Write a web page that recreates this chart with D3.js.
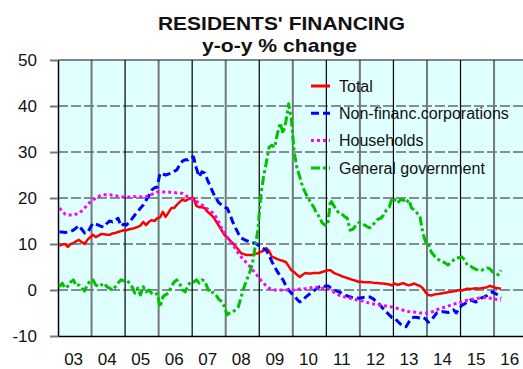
<!DOCTYPE html>
<html>
<head>
<meta charset="utf-8">
<script src="https://cdn.jsdelivr.net/npm/d3@7"></script>
<style>
  html, body { margin: 0; padding: 0; background: #ffffff; }
  svg { display: block; font-family: "Liberation Sans", Arial, sans-serif; }
</style>
</head>
<body>
<svg id="chart" width="523" height="369"></svg>
<script>
// Monthly y-o-y % change, January 2003 to March 2016
const firstYear = 2003;
const yearLabels = ["03", "04", "05", "06", "07", "08", "09", "10", "11", "12", "13", "14", "15", "16"];
const yTicks = [-10, 0, 10, 20, 30, 40, 50];

const seriesNames = ["Total", "Non-financ.corporations", "Households", "General government"];

const total = [
  9.6, 9.9, 10.0, 9.4, 10.0, 10.2, 10.6, 10.9, 10.4, 10.0, 10.9, 11.5,
  12.0, 11.5, 11.8, 12.2, 12.1, 12.0, 12.0, 12.3, 12.4, 12.6, 12.8, 13.0,
  13.0, 13.2, 13.3, 13.5, 13.7, 14.0, 14.8, 14.1, 14.8, 15.2, 15.0, 15.6,
  15.8, 17.0, 15.9, 16.8, 17.8, 17.8, 18.5, 19.1, 19.6, 19.4, 19.7, 20.0,
  20.0, 18.3, 18.0, 18.0, 17.8, 17.0, 16.5, 15.9, 15.0, 14.0, 13.0, 12.0,
  11.5, 10.8, 10.2, 9.5, 8.8, 8.0, 7.8, 7.6, 7.6, 7.6, 7.8, 8.0,
  8.3, 8.5, 9.1, 8.5, 7.2, 7.0, 6.7, 6.5, 6.3, 6.1, 5.2, 4.3,
  3.9, 3.3, 2.8, 3.3, 3.7, 3.6, 3.6, 3.7, 3.7, 3.7, 3.9, 4.1,
  4.3, 4.3, 3.8, 3.5, 3.3, 3.0, 2.8, 2.6, 2.4, 2.2, 2.0, 1.8,
  1.8, 1.7, 1.7, 1.7, 1.6, 1.5, 1.5, 1.4, 1.4, 1.3, 1.2, 1.0,
  1.4, 1.1, 1.3, 1.5, 1.2, 1.0, 1.2, 1.4, 1.1, 0.9, 0.4, -0.5,
  -1.1, -1.2, -1.0, -0.9, -0.8, -0.7, -0.6, -0.5, -0.4, -0.3, -0.2, 0.0,
  -0.1, 0.1, 0.3, 0.2, 0.3, 0.4, 0.3, 0.4, 0.5, 0.6, 0.9, 0.7,
  0.5, 0.4, 0.3
];

const corporations = [
  12.6, 12.6, 12.5, 12.6, 12.7, 13.0, 13.5, 14.0, 13.2, 12.4, 12.4, 13.5,
  14.5, 14.3, 14.1, 13.8, 13.7, 14.5, 15.0, 14.8, 15.2, 15.6, 13.9, 14.3,
  14.1, 14.8, 15.5, 16.3, 17.0, 17.8, 18.5, 19.5, 20.5, 21.7, 22.2, 22.4,
  25.4, 25.2, 25.0, 25.2, 25.4, 25.8, 26.1, 27.2, 28.0, 28.3, 28.3, 28.9,
  28.9, 26.5, 24.6, 25.7, 25.4, 23.9, 22.5, 21.1, 20.0, 19.0, 18.5, 18.0,
  17.8, 16.5, 14.8, 13.5, 12.3, 11.3, 11.0, 10.7, 10.5, 10.2, 10.2, 9.8,
  9.4, 9.0, 8.7, 7.5, 6.2, 5.0, 4.0, 3.0, 2.2, 1.0, 0.0, -0.7,
  -1.2, -2.0, -2.6, -2.3, -1.6, -1.1, -0.7, -0.2, 0.3, 0.7, 1.0, 0.8,
  0.9, 0.5, 0.1, -0.2, -0.4, -0.7, -1.0, -1.3, -1.5, -1.7, -1.7, -1.8,
  -1.7, -1.6, -1.5, -1.5, -1.8, -2.3, -2.8, -3.5, -4.2, -4.8, -5.4, -6.0,
  -6.1, -6.8, -7.4, -7.8, -8.0, -7.0, -6.1, -5.9, -6.0, -6.1, -5.9, -6.3,
  -7.0, -6.5, -5.8, -5.0, -4.8, -4.7, -4.8, -4.9, -4.6, -4.3, -5.0, -4.0,
  -3.3, -3.0, -2.6, -2.2, -2.4, -2.6, -2.2, -1.7, -1.5, -1.2, -0.8, -0.4,
  -0.8, -1.1, -1.7
];

const households = [
  17.8, 17.2, 16.5, 16.3, 16.3, 16.3, 16.5, 16.7, 17.2, 17.8, 18.5, 19.1,
  19.5, 20.0, 20.3, 20.7, 20.7, 20.7, 20.7, 20.6, 20.5, 20.4, 20.3, 20.2,
  20.2, 20.2, 20.3, 20.3, 20.2, 20.3, 20.2, 20.3, 20.5, 20.8, 21.0, 21.3,
  21.3, 21.3, 21.3, 21.3, 21.2, 21.2, 21.1, 21.1, 21.0, 20.6, 20.2, 19.9,
  19.6, 19.3, 18.9, 18.5, 18.0, 17.6, 17.2, 16.7, 15.9, 14.8, 13.5, 12.4,
  11.5, 10.6, 9.8, 9.0, 8.0, 7.2, 6.5, 5.9, 5.2, 4.5, 3.7, 3.0,
  2.2, 1.5, 0.9, 0.4, 0.1, 0.0, 0.0, 0.0, 0.0, 0.0, 0.0, 0.0,
  0.0, 0.1, 0.2, 0.2, 0.3, 0.4, 0.5, 0.7, 0.6, 0.4, 0.4, 0.4,
  0.3, 0.0, -0.4, -0.8, -1.1, -1.3, -1.5, -1.7, -1.8, -2.0, -2.1, -2.2,
  -2.3, -2.5, -2.7, -2.9, -3.0, -3.1, -3.2, -3.3, -3.4, -3.5, -3.6, -3.7,
  -3.9, -4.0, -4.2, -4.4, -4.6, -4.7, -4.8, -4.8, -4.9, -5.0, -5.0, -5.0,
  -5.0, -4.8, -4.6, -4.3, -4.1, -3.9, -3.7, -3.5, -3.3, -3.1, -2.9, -2.8,
  -2.6, -2.4, -2.2, -2.1, -2.0, -1.9, -1.8, -1.7, -1.7, -1.7, -1.8, -1.7,
  -2.0, -2.2, -2.2
];

const government = [
  0.7, 1.5, 0.4, 0.8, 1.7, 2.2, 0.9, 1.1, 0.4, -0.2, 1.1, 2.0,
  2.2, 1.1, 0.7, 1.1, 1.5, 0.7, 0.4, 0.0, 0.7, 1.5, 2.2, 2.0,
  2.2, 1.5, 0.7, -0.7, 0.4, -1.1, 0.7, -0.4, 0.0, -0.7, -1.1, -0.8,
  -3.7, -1.5, -1.0, -0.7, 0.7, 1.7, 2.2, 1.5, 0.0, -0.4, 1.0, 1.7,
  1.7, 2.2, 1.5, 2.2, 2.0, 0.4, -0.7, -0.5, -1.0, -2.0, -2.5, -3.5,
  -5.4, -5.0, -4.8, -4.3, -3.7, -1.5, 0.5, 2.2, 3.7, 5.5, 9.3, 13.0,
  20.2, 24.5, 27.6, 31.0, 31.5, 31.0, 34.0, 36.3, 34.0, 36.5, 40.5, 37.0,
  30.0, 26.5, 24.6, 22.5, 21.1, 20.0, 18.9, 18.0, 16.7, 15.9, 14.6, 14.1,
  14.1, 19.6, 18.5, 17.5, 16.7, 16.5, 16.0, 15.6, 13.0, 13.2, 14.0, 14.6,
  14.6, 14.2, 13.8, 13.5, 14.0, 14.8, 15.4, 15.6, 16.3, 17.4, 18.0, 20.0,
  19.6, 18.9, 19.6, 19.6, 18.9, 19.6, 17.8, 17.4, 16.7, 15.9, 12.4, 10.4,
  10.2, 8.3, 7.5, 6.8, 6.5, 6.2, 5.9, 5.4, 6.0, 6.5, 7.0, 7.0,
  7.2, 6.5, 5.4, 5.2, 4.8, 4.5, 4.3, 4.3, 4.6, 4.8, 4.6, 3.9,
  3.7, 3.3, 4.3
];

const series = [
  { name: seriesNames[0], values: total,        color: "#ff0000", width: 2.5, dash: null },
  { name: seriesNames[1], values: corporations, color: "#0000ff", width: 3,   dash: "8,4" },
  { name: seriesNames[2], values: households,   color: "#ff00ff", width: 3,   dash: "3,3" },
  { name: seriesNames[3], values: government,   color: "#00c000", width: 3,   dash: "9,3,3,3" }
];

const svg = d3.select("#chart");
const plot = { left: 58, top: 60, right: 527.6, bottom: 336 };

// Years on a linear scale; each monthly point sits in the middle of its month
const x = d3.scaleLinear().domain([firstYear, firstYear + yearLabels.length]).range([plot.left, plot.right]);
const y = d3.scaleLinear().domain([-10, 50]).range([plot.bottom, plot.top]);
const monthPos = i => firstYear + (i + 0.5) / 12;

// Plot background
svg.append("rect")
  .attr("x", plot.left).attr("y", plot.top)
  .attr("width", plot.right - plot.left).attr("height", plot.bottom - plot.top)
  .attr("fill", "#e0ffff");

// Horizontal dashed gridlines
svg.append("g").selectAll("line")
  .data(yTicks.filter(v => v > -10 && v < 50))
  .join("line")
  .attr("x1", plot.left).attr("x2", plot.right)
  .attr("y1", d => y(d)).attr("y2", d => y(d))
  .attr("stroke", "#222").attr("stroke-width", 1.2)
  .attr("stroke-dasharray", "10,3");

// Vertical year gridlines
const yearBounds = d3.range(firstYear + 1, firstYear + yearLabels.length);
svg.append("g").selectAll("line")
  .data(yearBounds)
  .join("line")
  .attr("x1", d => x(d)).attr("x2", d => x(d))
  .attr("y1", plot.top).attr("y2", plot.bottom)
  .attr("stroke", (d, i) => i % 2 === 0 ? "#707878" : "#000")
  .attr("stroke-width", (d, i) => i % 2 === 0 ? 2 : 1.2);

// Top border
svg.append("line")
  .attr("x1", plot.left).attr("x2", plot.right)
  .attr("y1", plot.top).attr("y2", plot.top)
  .attr("stroke", "#111").attr("stroke-width", 1.2);

// Y axis
const yAxis = svg.append("g")
  .attr("transform", `translate(${plot.left},0)`)
  .call(d3.axisLeft(y).tickValues(yTicks).tickFormat(d => String(d))
    .tickSize(8).tickPadding(13).tickSizeOuter(0));
yAxis.select(".domain").attr("stroke", "#000").attr("stroke-width", 1.5);
yAxis.selectAll(".tick line").attr("stroke", "#777").attr("stroke-width", 2);
yAxis.selectAll(".tick text").attr("font-size", 17).attr("fill", "#111")
  .attr("font-family", "'Liberation Sans', Arial, sans-serif");

// X axis: year labels centred in each year
const xAxis = svg.append("g")
  .attr("transform", `translate(0,${plot.bottom})`)
  .call(d3.axisBottom(x)
    .tickValues(yearLabels.map((d, i) => firstYear + i + 0.45))
    .tickFormat((d, i) => yearLabels[i])
    .tickSize(0).tickPadding(17).tickSizeOuter(0));
xAxis.select(".domain").attr("stroke", "#000").attr("stroke-width", 1.5);
xAxis.selectAll(".tick text").attr("font-size", 17).attr("fill", "#111")
  .attr("font-family", "'Liberation Sans', Arial, sans-serif");

// Series lines
const line = d3.line()
  .x((d, i) => x(monthPos(i)))
  .y(d => y(d));

svg.append("g").selectAll("path")
  .data(series)
  .join("path")
  .attr("d", d => line(d.values))
  .attr("fill", "none")
  .attr("stroke", d => d.color)
  .attr("stroke-width", d => d.width)
  .attr("stroke-dasharray", d => d.dash)
  .attr("stroke-linejoin", "round");

// Legend
const legend = svg.append("g").attr("transform", "translate(311,86)");
const rows = legend.selectAll("g")
  .data(series)
  .join("g")
  .attr("transform", (d, i) => `translate(0,${i * 27.3})`);
rows.append("line")
  .attr("x1", 0).attr("x2", 19).attr("y1", 0).attr("y2", 0)
  .attr("stroke", d => d.color)
  .attr("stroke-width", 3)
  .attr("stroke-dasharray", d => d.dash);
rows.append("text")
  .attr("x", 28).attr("dy", "0.35em")
  .attr("font-size", 16).attr("fill", "#111")
  .text(d => d.name);

// Title, two lines, stretched slightly wide
const titleLines = [
  { text: "RESIDENTS' FINANCING", x: 281.5, y: 30, width: 247 },
  { text: "y-o-y % change", x: 279.5, y: 51.5, width: 155 }
];
svg.append("g").selectAll("text")
  .data(titleLines)
  .join("text")
  .attr("x", d => d.x).attr("y", d => d.y)
  .attr("text-anchor", "middle")
  .attr("font-weight", "bold").attr("font-size", 19).attr("fill", "#111")
  .attr("textLength", d => d.width).attr("lengthAdjust", "spacingAndGlyphs")
  .text(d => d.text);
</script>
</body>
</html>
